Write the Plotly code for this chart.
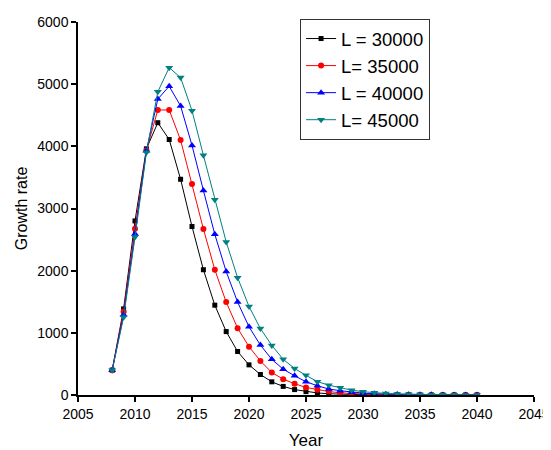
import plotly.graph_objects as go

years = list(range(2008, 2041))
series_names = ["L = 30000", "L= 35000", "L = 40000", "L= 45000"]
l30000 = [400, 1385, 2800, 3960, 4380, 4110, 3470, 2710, 2015, 1445, 1020, 700, 485, 330, 212, 138, 87,
          54, 33, 20, 12, 7, 4, 3, 2, 1, 1, 0, 0, 0, 0, 0, 0]
l35000 = [400, 1340, 2675, 3935, 4585, 4585, 4100, 3395, 2670, 2015, 1495, 1075, 777, 548, 362, 255, 181,
          122, 85, 55, 36, 23, 15, 10, 6, 4, 3, 2, 1, 1, 0, 0, 0]
l40000 = [400, 1290, 2590, 3930, 4760, 4967, 4649, 4015, 3290, 2585, 1985, 1495, 1096, 803, 574, 415, 309,
          213, 149, 96, 69, 45, 30, 20, 13, 9, 6, 4, 3, 2, 1, 1, 0]
l45000 = [400, 1250, 2540, 3900, 4877, 5266, 5106, 4574, 3856, 3140, 2463, 1888, 1425, 1069, 798, 574, 426,
          316, 215, 158, 115, 78, 53, 35, 25, 18, 12, 8, 5, 4, 3, 2, 1]
x_ticks = [2005, 2010, 2015, 2020, 2025, 2030, 2035, 2040, 2045]
y_ticks = [0, 1000, 2000, 3000, 4000, 5000, 6000]

colors = ["#000000", "#FF0000", "#0000FF", "#008080"]
symbols = ["square", "circle", "triangle-up", "triangle-down"]
sizes = [5, 6, 7, 7]

FONT = "Arial, Liberation Sans, sans-serif"

fig = go.Figure()
for name, vals, c, s, sz in zip(series_names, [l30000, l35000, l40000, l45000], colors, symbols, sizes):
    fig.add_trace(go.Scatter(
        x=years, y=vals, name=name, mode="lines+markers",
        line=dict(color=c, width=1),
        marker=dict(color=c, symbol=s, size=sz, line=dict(width=0)),
    ))

# the page body has an 8px default margin, so the figure is sized/offset for it
fig.update_layout(
    width=551, height=442,
    margin=dict(l=70, r=25, t=11, b=55),
    paper_bgcolor="white", plot_bgcolor="white",
    font=dict(family=FONT, color="black", size=14),
    legend=dict(
        x=0.487, y=1.008, xanchor="left", yanchor="top",
        font=dict(family=FONT, size=18.5, color="black"),
        bgcolor="white", bordercolor="#333333", borderwidth=1,
        tracegroupgap=0, itemwidth=30,
    ),
    showlegend=True,
)
fig.update_xaxes(
    range=[2005, 2045], tickvals=x_ticks, ticktext=[str(v) for v in x_ticks],
    showgrid=False, zeroline=False, showline=True, linecolor="black", linewidth=1.5,
    ticks="outside", ticklen=5, tickwidth=1.5, tickcolor="black",
    tickfont=dict(size=14), ticklabeloverflow="allow",
    title=dict(text="Year", font=dict(size=17), standoff=15),
    automargin=False,
)
fig.update_yaxes(
    range=[0, 6000], tickvals=y_ticks, ticktext=[str(v) for v in y_ticks],
    showgrid=False, zeroline=False, showline=True, linecolor="black", linewidth=1.5,
    ticks="outside", ticklen=5, tickwidth=1.5, tickcolor="black",
    tickfont=dict(size=14),
    title=dict(text="Growth rate", font=dict(size=16), standoff=6),
    automargin=False,
)

fig.write_html("out.html")
